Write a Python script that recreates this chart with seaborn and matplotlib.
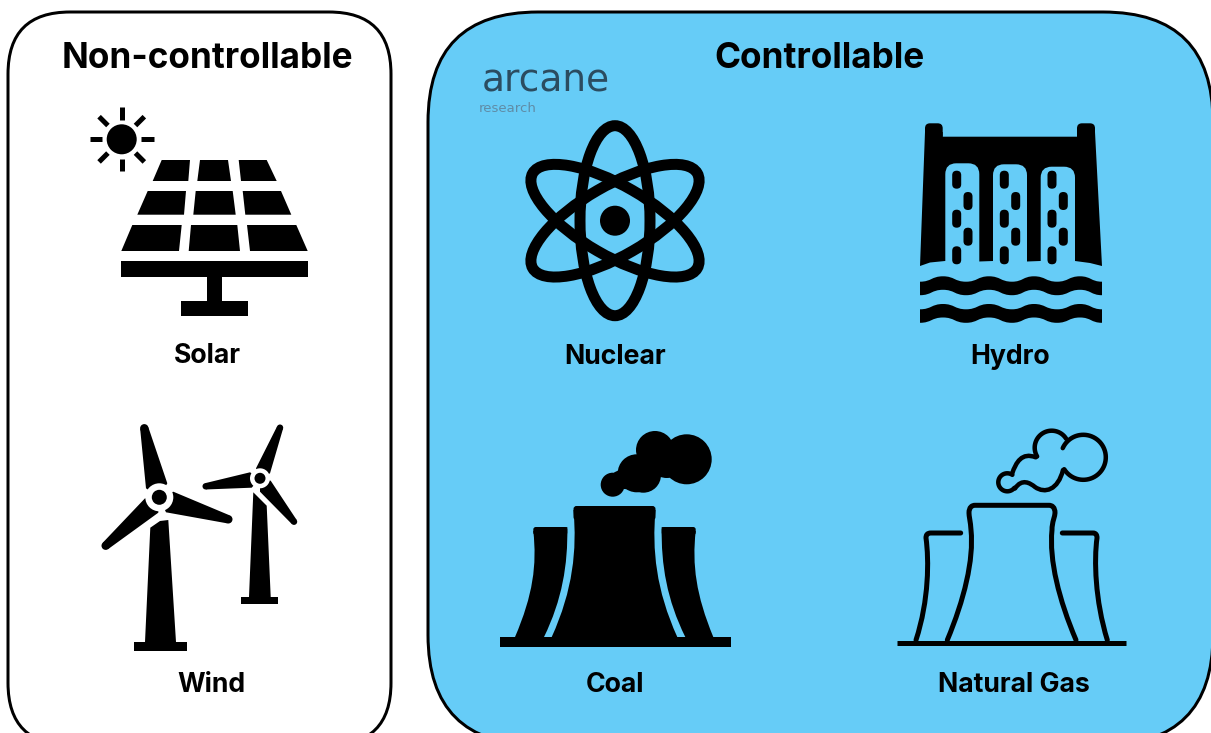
import numpy as np
import matplotlib
matplotlib.use("Agg")
import matplotlib.pyplot as plt
from matplotlib.patches import Circle, Ellipse, FancyBboxPatch, PathPatch, Polygon, Rectangle
from matplotlib.path import Path
import seaborn as sns

# Text of the chart
panel_titles = ["Non-controllable", "Controllable"]
left_labels = ["Solar", "Wind"]
right_labels = ["Nuclear", "Hydro", "Coal", "Natural Gas"]
logo_words = ["arcane", "research"]

BLUE = "#66CCF7"
FONT = ["Inter", "Noto Sans", "DejaVu Sans"]

sns.set_theme(style="white")
plt.rcParams["font.family"] = FONT

fig, ax = plt.subplots(figsize=(12.11, 7.33), dpi=100)
fig.subplots_adjust(0, 0, 1, 1)
ax.set_xlim(0, 1211)
ax.set_ylim(733, 0)
ax.set_axis_off()
sns.despine(ax=ax, left=True, bottom=True)


def lw(px):
    return px * 0.72


def rounded(x0, y0, x1, y1, r, fc="black", ec="none", w=0, z=3):
    ax.add_patch(FancyBboxPatch((x0, y0), x1 - x0, y1 - y0, boxstyle=f"round,pad=0,rounding_size={r}",
                                fc=fc, ec=ec, lw=w, zorder=z))


def poly(pts, fc="black", z=3):
    ax.add_patch(Polygon(pts, closed=True, fc=fc, ec="none", zorder=z))


def dot(x, y, r, fc="black", z=3):
    ax.add_patch(Circle((x, y), r, fc=fc, ec="none", zorder=z))


def curve(start, *segs):
    # each seg is (c1, c2, end) for a cubic bezier
    verts = [start]
    codes = [Path.MOVETO]
    for s in segs:
        verts += list(s)
        codes += [Path.CURVE4] * 3
    return verts, codes


def stroke(verts, codes, w, z=3):
    ax.add_patch(PathPatch(Path(verts, codes), fc="none", ec="black", lw=lw(w), capstyle="round",
                           joinstyle="round", zorder=z))


def arc_pts(cx, cy, r, a0, a1):
    a = np.radians(np.linspace(a0, a1, 60))
    return list(zip(cx + r * np.cos(a), cy + r * np.sin(a)))


# Panels
rounded(8, 12, 391, 745, 62, fc="white", ec="black", w=lw(3), z=1)
rounded(428, 12, 1213, 745, 110, fc=BLUE, ec="black", w=lw(3), z=1)

# Solar
dot(121.7, 139.3, 15)
for ang in range(0, 360, 45):
    a = np.radians(ang)
    ax.plot([121.7 + 19.5 * np.cos(a), 121.7 + 32 * np.cos(a)], [139.3 + 19.5 * np.sin(a), 139.3 + 32 * np.sin(a)],
            color="black", lw=lw(5), solid_capstyle="butt", zorder=3)
rows = [
    (160, 181, [(161.7, 190, 152.7, 188.3), (200, 228, 197.3, 231), (238.7, 266.7, 241, 276.7)]),
    (191, 214.7, [(147.7, 186, 137.3, 184), (195.7, 232.7, 193.3, 235.7), (242.7, 281, 245.3, 291.3)]),
    (225, 251, [(132.3, 181.7, 121.3, 179), (191, 237.3, 188.7, 240), (247, 296.3, 250, 307.7)]),
]
for y0, y1, cells in rows:
    for a, b, c, d in cells:
        poly([(a, y0), (b, y0), (d, y1), (c, y1)])
ax.add_patch(Rectangle((121, 261.3), 187, 15.4, fc="black", ec="none", zorder=3))
ax.add_patch(Rectangle((207, 276), 14.7, 25, fc="black", ec="none", zorder=3))
ax.add_patch(Rectangle((180.7, 300.7), 67.6, 15, fc="black", ec="none", zorder=3))


# Wind
def blade(hub, tip, r, b1, b2):
    tip = np.array(tip)
    mid = (np.array(b1) + np.array(b2)) / 2
    d = (mid - tip) / np.linalg.norm(mid - tip)
    n = np.array([-d[1], d[0]])
    if np.dot(np.array(b1) - np.array(b2), n) < 0:
        n = -n
    poly([b1, tip + n * r, tip - n * r, b2, hub])
    dot(tip[0], tip[1], r)


def turbine(hub, white_r, dot_r, tip_r, blades, tower, foot):
    poly(tower)
    for tip, b1, b2 in blades:
        blade(hub, tip, tip_r, b1, b2)
    dot(hub[0], hub[1], white_r, fc="white", z=4)
    dot(hub[0], hub[1], dot_r, z=5)
    ax.add_patch(Rectangle(foot[:2], foot[2], foot[3], fc="black", ec="none", zorder=3))


turbine((159.3, 497.3), 14, 7.5, 4.2,
        [((144.3, 428.3), (146, 488.3), (167.3, 483.3)),
         ((228.3, 519.3), (173.3, 491.7), (166, 512.3)),
         ((105.7, 545.7), (145, 498.3), (158.3, 512.7))],
        [(150.3, 527.7), (160, 521), (168.3, 520), (176, 642), (145, 642)],
        (134.3, 641.7, 52.4, 9.3))
turbine((260, 478.3), 10, 5.5, 3.2,
        [((280, 427.7), (256, 468.3), (270, 473.3)),
         ((205.7, 486.3), (250, 472.3), (251.7, 487.7)),
         ((294, 521.7), (270.7, 480.7), (260, 491.7))],
        [(253.3, 492.3), (266.7, 505.7), (270.7, 597), (249, 597)],
        (241, 597, 37.3, 7.3))

# Nuclear
for ang in (90, 30, -30):
    ax.add_patch(Ellipse((615, 220.7), 190, 70, angle=ang, fc="none", ec="black", lw=lw(11), zorder=3))
dot(615, 220.7, 15)

# Hydro
poly([(925, 132), (942.7, 132), (942.7, 136.7), (1077, 136.7), (1077, 132), (1095, 132), (1102, 266), (1090, 263),
      (1075, 261), (1040, 261), (1027, 261.5), (993, 261), (979, 261.5), (945, 261), (930, 262.5), (920, 266)])
rounded(925, 123.3, 942.7, 140, 5)
rounded(1077, 123.3, 1095, 140, 5)
for x0, x1, top in [(945.3, 979.3, 163.3), (993, 1027, 164.3), (1040.7, 1075, 166.7)]:
    rounded(x0, top, x1, 290, 11, fc=BLUE, z=4)
# windows run into the water, so cover their feet
for x0, x1 in [(944, 981), (992, 1028), (1039, 1076)]:
    ax.add_patch(Rectangle((x0, 262), x1 - x0, 13, fc=BLUE, ec="none", zorder=5))
for (c1, c2) in [(956.7, 968), (1004.3, 1015.7), (1052, 1063.3)]:
    for cy in (179.7, 218.7, 255.3):
        rounded(c1 - 4.5, cy - 9, c1 + 4.5, cy + 9, 4.5, z=6)
    for cy in (201, 236.7):
        rounded(c2 - 4.5, cy - 9, c2 + 4.5, cy + 9, 4.5, z=6)


def wave_band(y_trough, y_peak, h):
    xs = [920, 943, 966, 989, 1012, 1034, 1057, 1080, 1102]
    ys = [y_trough, y_peak] * 4 + [y_trough]
    verts, codes = [(xs[0], ys[0])], [Path.MOVETO]
    for i in range(8):
        dx = (xs[i + 1] - xs[i]) / 2
        verts += [(xs[i] + dx, ys[i]), (xs[i + 1] - dx, ys[i + 1]), (xs[i + 1], ys[i + 1])]
        codes += [Path.CURVE4] * 3
    verts.append((xs[-1], ys[-1] + h))
    codes.append(Path.LINETO)
    for i in range(8, 0, -1):
        dx = (xs[i] - xs[i - 1]) / 2
        verts += [(xs[i] - dx, ys[i] + h), (xs[i - 1] + dx, ys[i - 1] + h), (xs[i - 1], ys[i - 1] + h)]
        codes += [Path.CURVE4] * 3
    verts.append(verts[0])
    codes.append(Path.CLOSEPOLY)
    ax.add_patch(PathPatch(Path(verts, codes), fc="black", ec="none", zorder=7))


wave_band(281.7, 276.3, 13.5)
wave_band(309.3, 304, 13.5)


# Coal
def tower(top_l, bot_l, c_l, top_r, bot_r, c_r):
    # top_l -> curve down -> bot_l -> bot_r -> curve up -> top_r
    verts = [top_l, c_l[0], c_l[1], bot_l, bot_r, c_r[1], c_r[0], top_r, top_l]
    codes = [Path.MOVETO, Path.CURVE4, Path.CURVE4, Path.CURVE4, Path.LINETO,
             Path.CURVE4, Path.CURVE4, Path.CURVE4, Path.CLOSEPOLY]
    ax.add_patch(PathPatch(Path(verts, codes), fc="black", ec="none", zorder=3))


ax.add_patch(Rectangle((500.3, 636.7), 230.4, 10, fc="black", ec="none", zorder=3))
tower((573.5, 510), (551.7, 637), ((577, 550), (573, 590)),
      (655.5, 510), (677.3, 637), ((652, 550), (656, 590)))
rounded(573.5, 506, 655.5, 520, 3)
tower((533.3, 531), (515, 637), ((537, 565), (533, 595)),
      (567.3, 527), (544, 637), ((568, 565), (562, 600)))
rounded(533.3, 527, 567.3, 535, 2.5)
tower((661.7, 527), (685.3, 637), ((661, 565), (667, 600)),
      (695.7, 531), (713.3, 637), ((692, 565), (696, 595)))
rounded(661.7, 527, 695.7, 535, 2.5)
for cx, cy, r in [(612.7, 484.7, 12), (686.7, 459.3, 25), (655, 450, 19), (643.3, 475, 17.7), (636.7, 473.3, 19),
                  (666.7, 460, 18)]:
    dot(cx, cy, r)
poly([(614, 472.5), (624, 489), (640, 490), (640, 460)])

# Natural gas
ax.plot([897, 1126], [642.7, 642.7], color="black", lw=lw(5), solid_capstyle="butt", zorder=3)
v, c = curve((947.3, 640), ((964, 600), (974, 560), (971, 530)), ((970.5, 522), (969, 516), (969, 513)),
             ((969, 507), (972, 505.3), (975, 505.3)))
v2, c2 = curve((975, 505.3), ((1000, 505.3), (1020, 505.3), (1049, 505.3)), ((1052, 505.3), (1055, 507), (1055, 513)),
               ((1055, 516), (1052, 522), (1052, 530)), ((1049, 560), (1059, 600), (1076, 640)))
stroke(v + v2[1:], c + c2[1:], 5)
v, c = curve((960.7, 533), ((950, 533), (940, 533), (931, 533)), ((927, 533), (926, 535), (926, 538)),
             ((929, 560), (929, 600), (916, 640)))
stroke(v, c, 5)
v, c = curve((1062.3, 533), ((1072, 533), (1082, 533), (1093, 533)), ((1096, 533), (1097, 535), (1097, 538)),
             ((1094, 560), (1095, 600), (1107.3, 640)))
stroke(v, c, 5)
for cx, cy, r, a0, a1 in [(1083.3, 457.3, 22.5, 204, 508), (1051.7, 447.7, 17, 149, 328), (1007.3, 482.3, 9, 304, 38)]:
    pts = arc_pts(cx, cy, r, a0, a1)
    stroke(pts, [Path.MOVETO] + [Path.LINETO] * (len(pts) - 1), 4.5)
v, c = curve((1035.7, 457.3), ((1022, 452), (1016, 462), (1012, 474)))
stroke(v, c, 4.5)
v, c = curve((1015, 488.5), ((1022, 478), (1030, 483), (1035, 487)), ((1045, 494), (1058, 490), (1063, 470)))
stroke(v, c, 4.5)

# Logo
ax.text(546, 81, logo_words[0], ha="center", va="center", fontsize=27, family="DejaVu Sans",
        weight="normal", color="#2B4C60", zorder=8)
ax.text(507.5, 108, logo_words[1], ha="center", va="center", fontsize=9.5, family="DejaVu Sans",
        weight="normal", color="#5F8CA6", zorder=8)

# Titles and labels
ax.text(207, 58, panel_titles[0], ha="center", va="center", fontsize=25.3, weight="bold", color="black", zorder=8)
ax.text(819, 58, panel_titles[1], ha="center", va="center", fontsize=25.3, weight="bold", color="black", zorder=8)
for label, x, y in zip(left_labels, [207, 211.5], [356, 685]):
    ax.text(x, y, label, ha="center", va="center", fontsize=19.2, weight="bold", color="black", zorder=8)
for label, x, y in zip(right_labels, [615, 1010, 615, 1014], [357, 357, 685, 685]):
    ax.text(x, y, label, ha="center", va="center", fontsize=19.2, weight="bold", color="black", zorder=8)

fig.savefig("out.png", dpi=100)
